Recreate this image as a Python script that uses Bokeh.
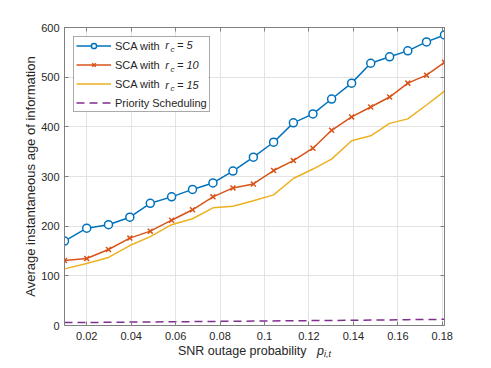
from bokeh.plotting import figure
from bokeh.models import (Range1d, FixedTicker, Legend, LegendItem, Label, LinearAxis,
                          CustomJSTickFormatter, BoxAnnotation)
from bokeh.layouts import column
from bokeh.embed import file_html
from bokeh.resources import INLINE

# ---- data ----
snr_outage = [0.0100, 0.0200, 0.0298, 0.0394, 0.0486, 0.0582, 0.0676, 0.0768, 0.0858, 0.0950,
              0.1041, 0.1130, 0.1218, 0.1302, 0.1392, 0.1478, 0.1563, 0.1645, 0.1729, 0.1810]
aoi_sca_rc5 = [170, 196, 203, 218, 246, 259, 274, 287, 311, 339,
               369, 408, 426, 456, 488, 528, 541, 553, 571, 585]
aoi_sca_rc10 = [131, 135, 153, 176, 190, 212, 233, 259, 277, 285,
                312, 332, 357, 393, 420, 440, 460, 488, 504, 530]
aoi_sca_rc15 = [114, 125, 137, 161, 179, 203, 215, 237, 240, 251,
                263, 296, 315, 335, 372, 382, 407, 416, 444, 472]
aoi_priority = [5.8, 6.1, 6.4, 6.8, 7.1, 7.6, 7.8, 8.2, 8.5, 8.9,
                9.2, 9.6, 9.9, 10.2, 10.5, 10.9, 11.3, 11.8, 12.1, 12.5]

x_ticks = [0.02, 0.04, 0.06, 0.08, 0.10, 0.12, 0.14, 0.16, 0.18]
x_tick_labels = ["0.02", "0.04", "0.06", "0.08", "0.1", "0.12", "0.14", "0.16", "0.18"]
y_ticks = [0, 100, 200, 300, 400, 500, 600]

series_labels = ["SCA with", "SCA with", "SCA with", "Priority Scheduling"]
rc_values = ["= 5", "= 10", "= 15"]

FONT = "Liberation Sans"
TEXT = "#262626"
AXC = "#808080"
BLUE, ORANGE, YELLOW, PURPLE = "#0072BD", "#D95319", "#EDB120", "#7E2F8E"

p = figure(frame_width=380, frame_height=298,
           x_range=Range1d(0.01, 0.181), y_range=Range1d(0, 600),
           output_backend="svg", toolbar_location=None,
           min_border_left=64, min_border_right=46, min_border_top=27, min_border_bottom=21,
           background_fill_color="white", border_fill_color="white")

l1 = p.line(snr_outage, aoi_sca_rc5, line_color=BLUE, line_width=1.5)
s1 = p.scatter(snr_outage, aoi_sca_rc5, marker="circle", size=8, line_color=BLUE,
               fill_color="white", line_width=1.5)
l2 = p.line(snr_outage, aoi_sca_rc10, line_color=ORANGE, line_width=1.5)
s2 = p.scatter(snr_outage, aoi_sca_rc10, marker="x", size=7, line_color=ORANGE, line_width=1.5)
l3 = p.line(snr_outage, aoi_sca_rc15, line_color=YELLOW, line_width=1.5)
l4 = p.line(snr_outage, aoi_priority, line_color=PURPLE, line_width=1.5, line_dash="8 5")

# axes
p.xaxis.ticker = FixedTicker(ticks=x_ticks)
p.xaxis.major_label_overrides = dict(zip(x_ticks, x_tick_labels))
p.yaxis.ticker = FixedTicker(ticks=y_ticks)
for ax in (p.xaxis, p.yaxis):
    ax.axis_line_color = AXC
    ax.major_tick_line_color = AXC
    ax.major_tick_in = 4
    ax.major_tick_out = 0
    ax.minor_tick_line_color = None
    ax.major_label_text_font = FONT
    ax.major_label_text_font_size = "11px"
    ax.major_label_text_color = TEXT
p.xaxis.major_label_standoff = 6
p.yaxis.major_label_standoff = 5
p.yaxis.axis_label = "Average instantaneous age of information"
p.yaxis.axis_label_text_font = FONT
p.yaxis.axis_label_text_font_size = "13px"
p.yaxis.axis_label_text_font_style = "normal"
p.yaxis.axis_label_text_color = TEXT
p.yaxis.axis_label_standoff = 0

# box ticks on top and right (no labels)
blank = CustomJSTickFormatter(code="return ''")
top_axis = LinearAxis(ticker=FixedTicker(ticks=x_ticks), formatter=blank,
                      axis_line_color=AXC, major_tick_line_color=AXC, major_tick_in=4,
                      major_tick_out=0, minor_tick_line_color=None, major_label_standoff=0)
right_axis = LinearAxis(ticker=FixedTicker(ticks=y_ticks), formatter=blank,
                        axis_line_color=AXC, major_tick_line_color=AXC, major_tick_in=4,
                        major_tick_out=0, minor_tick_line_color=None, major_label_standoff=0)
p.add_layout(top_axis, "above")
p.add_layout(right_axis, "right")

p.grid.grid_line_color = "#e3e3e3"
p.grid.grid_line_width = 1
p.outline_line_color = AXC
p.outline_line_width = 1

# legend: white panel behind, transparent legend background, italic symbols on top
p.add_layout(BoxAnnotation(left=9.5, right=143.5, top=288.5, bottom=213.5,
                           left_units="screen", right_units="screen",
                           top_units="screen", bottom_units="screen",
                           fill_color="white", fill_alpha=1, line_color=None))
items = [LegendItem(label=series_labels[0], renderers=[l1, s1]),
         LegendItem(label=series_labels[1], renderers=[l2, s2]),
         LegendItem(label=series_labels[2], renderers=[l3]),
         LegendItem(label=series_labels[3], renderers=[l4])]
legend = Legend(items=items, location="top_left", margin=9, padding=2, spacing=6,
                glyph_width=35, glyph_height=13, label_height=13, label_standoff=4,
                label_text_font=FONT, label_text_font_size="11px", label_text_color=TEXT,
                border_line_color="#555555", border_line_width=1,
                background_fill_color=None, background_fill_alpha=0)
p.add_layout(legend)

row_centers = [280.1, 260.4, 240.6]
for yc, rv in zip(row_centers, rc_values):
    p.add_layout(Label(x=100.7, y=yc, x_units="screen", y_units="screen",
                       text="r", text_font=FONT, text_font_size="11px", text_font_style="italic",
                       text_color=TEXT, text_baseline="middle", text_align="left"))
    p.add_layout(Label(x=106, y=yc - 4, x_units="screen", y_units="screen",
                       text="c", text_font=FONT, text_font_size="8px", text_font_style="italic",
                       text_color=TEXT, text_baseline="middle", text_align="left"))
    p.add_layout(Label(x=112.5, y=yc, x_units="screen", y_units="screen",
                       text=rv, text_font=FONT, text_font_size="11px", text_font_style="italic",
                       text_color=TEXT, text_baseline="middle", text_align="left"))

# x-axis title strip, overlapping the bottom border of the plot (transparent)
t = figure(frame_width=490, frame_height=32, x_range=Range1d(0, 1), y_range=Range1d(0, 1),
           output_backend="svg", toolbar_location=None, x_axis_type=None, y_axis_type=None,
           min_border=0, outline_line_color=None, background_fill_color=None,
           border_fill_color=None, margin=(-20, 0, 0, 0))
t.grid.visible = False
t.add_layout(Label(x=113.5, y=7.8, x_units="screen", y_units="screen",
                   text="SNR outage probability", text_font=FONT, text_font_size="12.5px",
                   text_color=TEXT, text_baseline="alphabetic", text_align="left"))
t.add_layout(Label(x=252.5, y=7.8, x_units="screen", y_units="screen",
                   text="p", text_font=FONT, text_font_size="12.5px", text_font_style="italic",
                   text_color=TEXT, text_baseline="alphabetic", text_align="left"))
t.add_layout(Label(x=259.5, y=4.3, x_units="screen", y_units="screen",
                   text="i,t", text_font=FONT, text_font_size="9px", text_font_style="italic",
                   text_color=TEXT, text_baseline="alphabetic", text_align="left"))

layout = column(p, t, spacing=0)
open("out.html", "w").write(file_html(layout, INLINE))
